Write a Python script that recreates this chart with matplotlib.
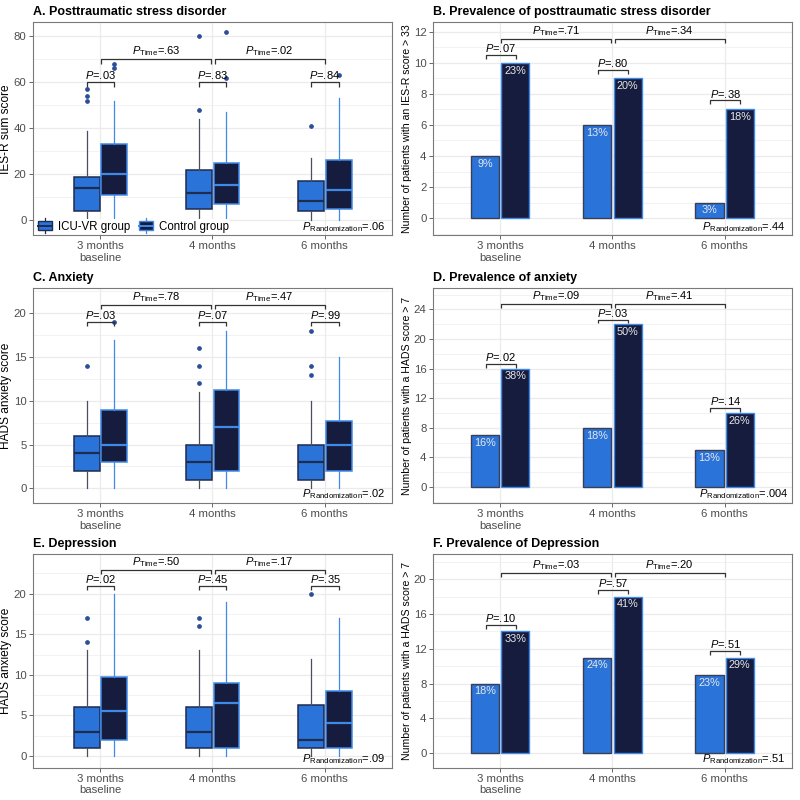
import matplotlib
matplotlib.use('Agg')
import matplotlib.pyplot as plt
from matplotlib.patches import Rectangle, Patch
from matplotlib.lines import Line2D
from matplotlib.legend_handler import HandlerBase
from matplotlib.ticker import MultipleLocator

plt.rcParams['font.family'] = ['Liberation Sans', 'DejaVu Sans']
plt.rcParams['mathtext.fontset'] = 'custom'
plt.rcParams['mathtext.rm'] = 'Liberation Sans'
plt.rcParams['mathtext.it'] = 'Liberation Sans:italic'
plt.rcParams['mathtext.bf'] = 'Liberation Sans:bold'

# ---- data ----
times = ['3 months\nbaseline', '4 months', '6 months']
groups = ['ICU-VR group', 'Control group']

# box stats: [whisker low, q1, median, q3, whisker high]
ptsd_icu_box = [[0, 4, 14, 19, 39], [0, 5, 12, 22, 44], [0, 4, 8.5, 17, 27]]
ptsd_icu_out = [[52, 54, 57], [48, 80], [41]]
ptsd_ctl_box = [[0, 11, 20, 33, 52], [0, 7, 15.5, 25, 47], [0, 5, 13, 26, 53]]
ptsd_ctl_out = [[66, 68], [62, 82], [63]]

anx_icu_box = [[0, 2, 4, 6, 10], [0, 1, 3, 5, 11], [0, 1, 3, 5, 10]]
anx_icu_out = [[14], [12, 14, 16], [13, 14, 18]]
anx_ctl_box = [[0, 3, 5, 9, 17], [0, 2, 7, 11.25, 18], [0, 2, 5, 7.75, 15]]
anx_ctl_out = [[19], [], []]

dep_icu_box = [[0, 1, 3, 6, 13], [0, 1, 3, 6, 13], [0, 1, 2, 6.25, 12]]
dep_icu_out = [[14, 17], [16, 17], [20]]
dep_ctl_box = [[0, 2, 5.5, 9.75, 20], [0, 1, 6.5, 9, 19], [0, 1, 4, 8, 17]]
dep_ctl_out = [[], [], []]

# prevalence counts and percentages
ptsd_icu_n = [4, 6, 1]
ptsd_ctl_n = [10, 9, 7]
ptsd_icu_pct = ['9%', '13%', '3%']
ptsd_ctl_pct = ['23%', '20%', '18%']

anx_icu_n = [7, 8, 5]
anx_ctl_n = [16, 22, 10]
anx_icu_pct = ['16%', '18%', '13%']
anx_ctl_pct = ['38%', '50%', '26%']

dep_icu_n = [8, 11, 9]
dep_ctl_n = [14, 18, 11]
dep_icu_pct = ['18%', '24%', '23%']
dep_ctl_pct = ['33%', '41%', '29%']

# p-values: pairwise per time point, time comparisons, randomization
pA_pair, pA_time, pA_rand = ['.03', '.83', '.84'], ['.63', '.02'], '.06'
pB_pair, pB_time, pB_rand = ['.07', '.80', '.38'], ['.71', '.34'], '.44'
pC_pair, pC_time, pC_rand = ['.03', '.07', '.99'], ['.78', '.47'], '.02'
pD_pair, pD_time, pD_rand = ['.02', '.03', '.14'], ['.09', '.41'], '.004'
pE_pair, pE_time, pE_rand = ['.02', '.45', '.35'], ['.50', '.17'], '.09'
pF_pair, pF_time, pF_rand = ['.10', '.57', '.51'], ['.03', '.20'], '.51'

# ---- style ----
BLUE = '#2a73d9'
NAVY = '#161c3e'
NAVY_EDGE = '#1f2b4f'
BLUE_EDGE = '#3f8ae8'
GRID = '#ebebeb'
TXT = '#4d4d4d'
BRK = '#333333'

fig = plt.figure(figsize=(8, 8), dpi=100)
W = 0.449
lefts = [0.041, 0.541]
rows = [(0.706, 0.266), (0.371, 0.269), (0.040, 0.2675)]


def style_axes(ax, title, ylabel, ylim, step, ylab_size):
    ax.set_xlim(0.4, 3.6)
    ax.set_ylim(*ylim)
    ax.yaxis.set_major_locator(MultipleLocator(step))
    ax.yaxis.set_minor_locator(MultipleLocator(step / 2))
    ax.set_xticks([1, 2, 3])
    ax.set_xticklabels(times, linespacing=1.15)
    ax.tick_params(axis='both', which='major', labelsize=8.2, colors=TXT,
                   length=3, width=0.6, pad=1.5)
    ax.tick_params(axis='y', which='minor', length=0)
    for lab in ax.get_xticklabels() + ax.get_yticklabels():
        lab.set_color(TXT)
    ax.grid(True, which='major', color=GRID, lw=0.9)
    ax.grid(True, which='minor', axis='y', color=GRID, lw=0.45)
    ax.set_axisbelow(True)
    for s in ax.spines.values():
        s.set_color('#7a7a7a')
        s.set_linewidth(0.8)
        s.set_zorder(6)
    ax.set_title(title, loc='left', fontsize=9, fontweight='bold', pad=5)
    ax.set_ylabel(ylabel, fontsize=ylab_size, labelpad=1)


def bracket(ax, x1, x2, y, h, label):
    ax.plot([x1, x1, x2, x2], [y - h, y, y, y - h], color=BRK, lw=0.9,
            solid_capstyle='butt', zorder=4)
    ax.annotate(label, ((x1 + x2) / 2, y), xytext=(0, 0.6), textcoords='offset points',
                ha='center', va='bottom', fontsize=8, zorder=5)


def annotate_p(ax, dx, pair, pair_y, time, time_y, h, rand):
    for i, p in enumerate(pair):
        bracket(ax, i + 1 + dx[0], i + 1 + dx[1], pair_y[i], h, r'$P$=' + p)
    bracket(ax, 1.01, 1.99, time_y, h, r'$P_{\mathrm{Time}}$=' + time[0])
    bracket(ax, 2.02, 3.0, time_y, h, r'$P_{\mathrm{Time}}$=' + time[1])
    ax.text(0.866, 0.04, r'$P_{\mathrm{Randomization}}$=' + rand, transform=ax.transAxes,
            ha='center', va='center', fontsize=8, zorder=5)


def box_panel(ax, icu_box, icu_out, ctl_box, ctl_out):
    specs = [(icu_box, icu_out, -0.12, BLUE, NAVY_EDGE, '#4a4f5e'),
             (ctl_box, ctl_out, 0.125, NAVY, BLUE_EDGE, BLUE_EDGE)]
    for box, out, dx, face, edge, wcol in specs:
        stats = []
        for b, o in zip(box, out):
            stats.append(dict(whislo=b[0], q1=b[1], med=b[2], q3=b[3], whishi=b[4], fliers=o))
        pos = [i + 1 + dx for i in range(len(stats))]
        ax.bxp(stats, positions=pos, widths=0.23, patch_artist=True, showcaps=False,
               boxprops=dict(facecolor=face, edgecolor=edge, lw=1.1),
               medianprops=dict(color=edge, lw=1.6),
               whiskerprops=dict(color=wcol, lw=0.9),
               flierprops=dict(marker='o', markersize=2.4, markerfacecolor='#2a4f99',
                               markeredgecolor='#2a4f99'),
               manage_ticks=False, zorder=3)


def bar_panel(ax, icu_n, ctl_n, icu_pct, ctl_pct):
    xs = [1, 2, 3]
    for n, pct, dx, face, edge in [(icu_n, icu_pct, -0.135, BLUE, '#3a3f55'),
                                   (ctl_n, ctl_pct, 0.135, NAVY, BLUE_EDGE)]:
        bars = ax.bar([x + dx for x in xs], n, width=0.25, color=face, edgecolor=edge,
                      lw=1.0, zorder=3)
        for b, t in zip(bars, pct):
            ax.annotate(t, (b.get_x() + b.get_width() / 2, b.get_height()), xytext=(0, -2),
                        textcoords='offset points', ha='center', va='top',
                        fontsize=7.8, color='#e8e8e8', zorder=4)


class BoxKey(HandlerBase):
    def create_artists(self, legend, orig, xd, yd, width, height, fontsize, trans):
        face = orig.get_facecolor()
        edge = orig.get_edgecolor()
        x0, y0 = -xd, -yd
        cx = x0 + width / 2
        v = Line2D([cx, cx], [y0 - 0.2 * height, y0 + 1.2 * height], color=edge, lw=0.9)
        r = Rectangle((x0 + 0.05 * width, y0 + 0.05 * height), 0.9 * width, 0.9 * height,
                      facecolor=face, edgecolor=edge, lw=1.0)
        m = Line2D([x0 + 0.05 * width, x0 + 0.95 * width], [y0 + height / 2] * 2,
                   color=edge, lw=1.4)
        for a in (v, r, m):
            a.set_transform(trans)
        return [v, r, m]


# ---- panels ----
axA = fig.add_axes([lefts[0], rows[0][0], W, rows[0][1]])
style_axes(axA, 'A. Posttraumatic stress disorder', 'IES-R sum score', (-6.5, 86), 20, 8.6)
box_panel(axA, ptsd_icu_box, ptsd_icu_out, ptsd_ctl_box, ptsd_ctl_out)
annotate_p(axA, (-0.12, 0.125), pA_pair, [60.3] * 3, pA_time, 70.2, 2.2, pA_rand)
hA = [Patch(facecolor=BLUE, edgecolor=NAVY_EDGE), Patch(facecolor=NAVY, edgecolor=BLUE_EDGE)]
axA.legend(hA, groups, handler_map={Patch: BoxKey()}, loc='lower left',
           bbox_to_anchor=(0.004, 0.0), ncol=2, fontsize=8.3, frameon=True,
           facecolor='white', edgecolor='none', framealpha=1, handlelength=1.4,
           handleheight=1.0, handletextpad=0.4, columnspacing=0.7, borderpad=0.12,
           borderaxespad=0.1)

axB = fig.add_axes([lefts[1], rows[0][0], W, rows[0][1]])
style_axes(axB, 'B. Prevalence of posttraumatic stress disorder',
           'Number of patients with an IES-R score > 33', (-1.1, 12.6), 2, 7.6)
bar_panel(axB, ptsd_icu_n, ptsd_ctl_n, ptsd_icu_pct, ptsd_ctl_pct)
annotate_p(axB, (-0.13, 0.14), pB_pair, [10.53, 9.55, 7.58], pB_time, 11.53, 0.26, pB_rand)

axC = fig.add_axes([lefts[0], rows[1][0], W, rows[1][1]])
style_axes(axC, 'C. Anxiety', 'HADS anxiety score', (-1.7, 22.9), 5, 8.6)
box_panel(axC, anx_icu_box, anx_icu_out, anx_ctl_box, anx_ctl_out)
annotate_p(axC, (-0.12, 0.125), pC_pair, [19.05] * 3, pC_time, 21.0, 0.48, pC_rand)

axD = fig.add_axes([lefts[1], rows[1][0], W, rows[1][1]])
style_axes(axD, 'D. Prevalence of anxiety', 'Number of patients with a HADS score > 7',
           (-2.2, 26.9), 4, 7.6)
bar_panel(axD, anx_icu_n, anx_ctl_n, anx_icu_pct, anx_ctl_pct)
annotate_p(axD, (-0.13, 0.14), pD_pair, [16.64, 22.64, 10.69], pD_time, 24.76, 0.5, pD_rand)

axE = fig.add_axes([lefts[0], rows[2][0], W, rows[2][1]])
style_axes(axE, 'E. Depression', 'HADS anxiety score', (-1.5, 24.9), 5, 8.6)
box_panel(axE, dep_icu_box, dep_icu_out, dep_ctl_box, dep_ctl_out)
annotate_p(axE, (-0.12, 0.125), pE_pair, [20.95] * 3, pE_time, 22.93, 0.5, pE_rand)

axF = fig.add_axes([lefts[1], rows[2][0], W, rows[2][1]])
style_axes(axF, 'F. Prevalence of Depression', 'Number of patients with a HADS score > 7',
           (-1.7, 22.9), 4, 7.6)
bar_panel(axF, dep_icu_n, dep_ctl_n, dep_icu_pct, dep_ctl_pct)
annotate_p(axF, (-0.13, 0.14), pF_pair, [14.75, 18.77, 11.8], pF_time, 20.77, 0.47, pF_rand)

fig.savefig('out.png', dpi=100, facecolor='white')
